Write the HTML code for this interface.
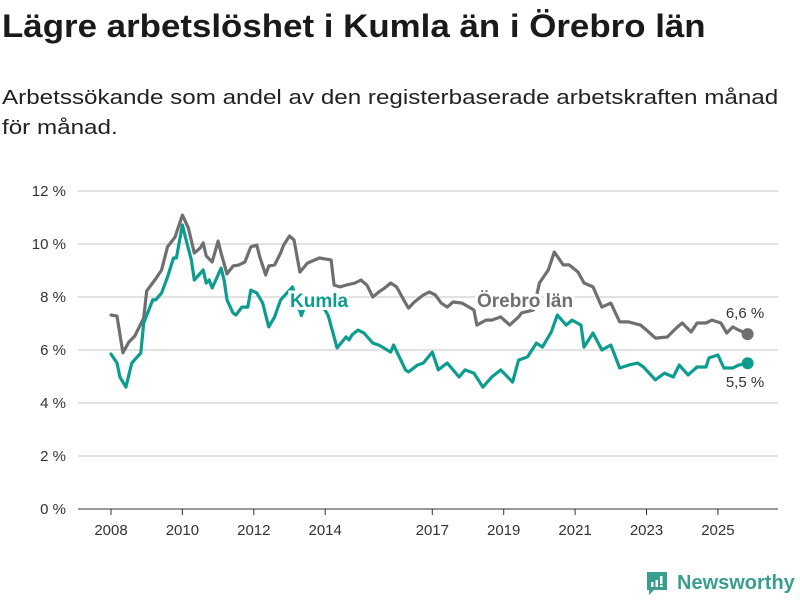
<!DOCTYPE html>
<html><head><meta charset="utf-8">
<style>
body{margin:0;width:800px;height:600px;background:#fff;font-family:"Liberation Sans","DejaVu Sans",sans-serif;overflow:hidden;position:relative}
h1{position:absolute;left:2px;top:8px;margin:0;font-size:32px;font-weight:bold;color:#1a1a1a;transform-origin:0 0;transform:scaleX(1.09);white-space:nowrap}
p.sub{position:absolute;left:2px;top:83px;margin:0;font-size:20px;line-height:30px;color:#222;transform-origin:0 0;transform:scaleX(1.21);white-space:nowrap}
svg{position:absolute;left:0;top:0}
</style></head><body>
<h1>Lägre arbetslöshet i Kumla än i Örebro län</h1>
<p class="sub">Arbetssökande som andel av den registerbaserade arbetskraften månad<br>för månad.</p>
<svg id="chart" width="800" height="600"></svg>
<script>
const yTicks=[0,2,4,6,8,10,12];
const yearTicks=[2008,2010,2012,2014,2017,2019,2021,2023,2025];
const oreMonths=[0,2,4,6,8,11,12,15,17,19,21.5,24,26,28,30,31,32,34,36,37,39,41,43,45,47,49,50,52,53,55,57,58,60,61.5,63.5,66,70,74,75,77,79,82,84,86,88,90,92,94,96,99,100,102,105,107,109,111,113,115,118,122,123,126,128,131,134,137,138,142,144,147,149,152,154,157,159,162,165,168,171,174,178,180,183,187,190,192,195,197,200,202,205,207,209,211,214];
const oreValues=[7.32,7.28,5.89,6.3,6.53,7.21,8.23,8.68,9.02,9.89,10.26,11.09,10.6,9.66,9.85,10.04,9.55,9.32,10.11,9.66,8.87,9.17,9.21,9.32,9.89,9.96,9.51,8.83,9.17,9.21,9.66,9.96,10.3,10.15,8.94,9.28,9.47,9.4,8.45,8.38,8.45,8.53,8.64,8.45,8.0,8.19,8.34,8.53,8.38,7.77,7.58,7.81,8.08,8.19,8.08,7.77,7.62,7.81,7.77,7.51,6.94,7.13,7.13,7.25,6.94,7.25,7.4,7.51,8.53,9.02,9.7,9.21,9.21,8.94,8.53,8.38,7.62,7.77,7.06,7.06,6.94,6.75,6.45,6.49,6.83,7.02,6.68,7.02,7.02,7.13,7.02,6.64,6.87,6.75,6.6];
const kumMonths=[0,2,3,5,7,10,11,14,15,17,19,21,22,24,25,27,28,31,32,33,34,37,38,39,41,42,44,46,47,49,51,53,55,57,61,64,66,70,73,76,79,80,81,83,85,88,90,94,95,99,100,103,105,108,110,113,115,117,119,122,125,128,131,135,137,140,143,145,148,150,153,155,158,159,162,165,168,171,174,177,179,183,186,189,191,194,197,200,201,204,206,209,211,214];
const kumValues=[5.85,5.51,4.98,4.6,5.51,5.89,7.02,7.89,7.89,8.15,8.75,9.47,9.47,10.72,10.26,9.4,8.64,9.02,8.53,8.64,8.34,9.09,8.64,7.89,7.4,7.32,7.62,7.62,8.26,8.15,7.77,6.87,7.25,7.89,8.38,7.3,7.9,7.9,7.3,6.08,6.49,6.38,6.57,6.75,6.64,6.26,6.19,5.92,6.19,5.25,5.17,5.43,5.51,5.92,5.25,5.51,5.25,4.98,5.25,5.13,4.6,4.98,5.25,4.79,5.62,5.74,6.26,6.11,6.68,7.32,6.94,7.13,6.94,6.11,6.64,6.0,6.19,5.32,5.43,5.51,5.36,4.87,5.13,4.98,5.43,5.06,5.36,5.36,5.7,5.81,5.32,5.32,5.43,5.5];

const svg=document.getElementById('chart');
const NS='http://www.w3.org/2000/svg';
const x=m=>111+m*2.975;
const y=v=>509-v*26.5;
function mk(t,a){const e=document.createElementNS(NS,t);for(const k in a)e.setAttribute(k,a[k]);svg.appendChild(e);return e;}
yTicks.forEach(v=>{
  const g=mk('line',{x1:78,x2:778,y1:y(v),y2:y(v),stroke:v===0?'#333':'#d9d9d9','stroke-width':v===0?1:1.5});
  
  
  const t=mk('text',{x:66,y:y(v)+5,'text-anchor':'end','font-size':15,fill:'#333'});
  t.textContent=v+' %';
  
  
});
yearTicks.forEach(yr=>{
  const xm=x((yr-2008)*12);
  const l=mk('line',{x1:xm,x2:xm,y1:509,y2:515,stroke:'#333'});
  
  
  const t=mk('text',{x:xm,y:535,'text-anchor':'middle','font-size':15,fill:'#333'});
  t.textContent=yr;
  
  
});
function line(ms,vs,col,name){
  const d=ms.map((m,i)=>(i?'L':'M')+x(m).toFixed(1)+','+y(vs[i]).toFixed(1)).join('');
  const p=mk('path',{d:d,fill:'none',stroke:col,'stroke-width':3.2,'stroke-linejoin':'round','stroke-linecap':'round'});
  
  
  const n=ms.length-1;
  const c=mk('circle',{cx:x(ms[n]),cy:y(vs[n]),r:6,fill:col});
  
  
}
line(oreMonths,oreValues,'#6f6f71','orebro-line');
line(kumMonths,kumValues,'#0c9d8e','kumla-line');
function label(txt,xx,yy,col,sz,bold,name,anchor){
  const t=mk('text',{x:xx,y:yy,'font-size':sz,'font-weight':bold?'bold':'normal',fill:col,stroke:'#fff','stroke-width':bold?6:4,'paint-order':'stroke','text-anchor':anchor||'start'});
  t.textContent=txt;
  
  
}
label('Kumla',290,307,'#0c9d8e',19,true,'kumla-label');
label('Örebro län',477,307,'#6f6f71',19,true,'orebro-label');
label('6,6 %',745,318,'#333',15,false,'orebro-end-value','middle');
label('5,5 %',745,387,'#333',15,false,'kumla-end-value','middle');
</script>
<div style="position:absolute;left:645px;top:570px;display:flex;align-items:center;gap:8px">
<svg width="24" height="26" viewBox="0 0 24 26" style="position:static"><path d="M2 2h20v18H9l-5 5v-5H2z" fill="#3a9e8f"/><rect x="6" y="12" width="2.5" height="5" fill="#fff"/><rect x="10.5" y="10" width="2.5" height="7" fill="#fff"/><rect x="15" y="6" width="2.5" height="8" fill="#fff"/><rect x="15" y="15" width="2.5" height="2" fill="#fff"/></svg>
<span style="font-size:20px;font-weight:bold;color:#3a9e8f">Newsworthy</span></div>
</body></html>
